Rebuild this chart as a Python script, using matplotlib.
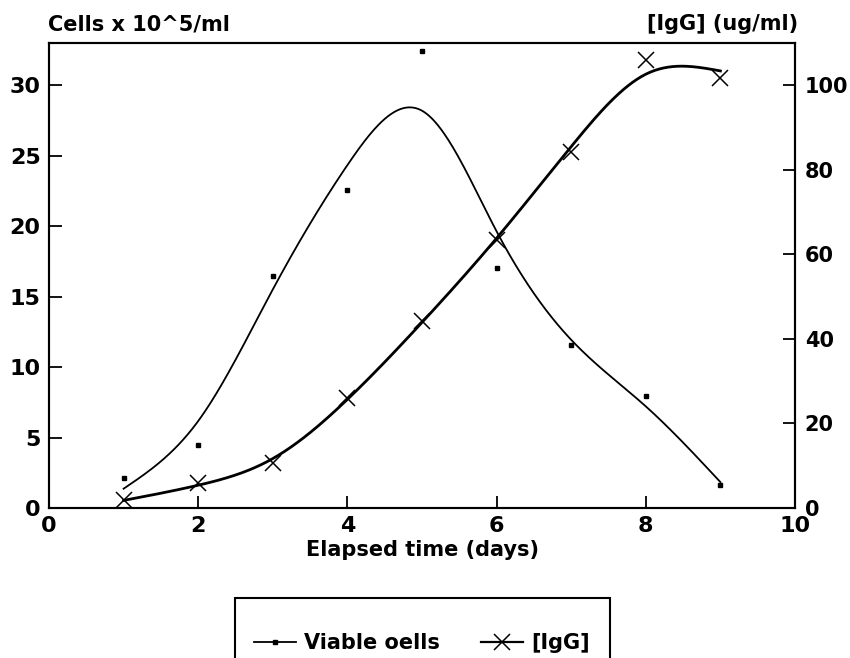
import matplotlib

matplotlib.use("Agg")
import matplotlib.pyplot as plt
import numpy as np
from matplotlib.lines import Line2D
from matplotlib.patches import Rectangle

days = np.array([1, 2, 3, 4, 5, 6, 7, 8, 9], dtype=float)
viable_cells = np.array([2.1, 4.5, 16.45, 22.6, 32.4, 17.0, 11.55, 7.95, 1.65])
igg = np.array([1.9, 5.9, 10.6, 26.0, 44.2, 63.4, 84.2, 105.9, 101.7])

x_ticks = [0, 2, 4, 6, 8, 10]
cell_ticks = [0, 5, 10, 15, 20, 25, 30]
igg_ticks = [0, 20, 40, 60, 80, 100]

plt.rcParams["font.family"] = ["DejaVu Sans"]
plt.rcParams["font.weight"] = "bold"


def smoothing_spline(x, y, lam, n=401):
    """Penalised least-squares fit on a fine grid (discrete cubic smoothing spline)."""
    grid = np.linspace(x[0], x[-1], n)
    h = grid[1] - grid[0]
    idx = np.round((x - x[0]) / h).astype(int)
    w = np.zeros(n)
    b = np.zeros(n)
    w[idx] = 1.0
    b[idx] = y
    d2 = np.diff(np.eye(n), 2, axis=0) / h ** 2
    a = np.diag(w) + lam * h * d2.T @ d2
    return grid, np.linalg.solve(a, b)


fig = plt.figure(figsize=(8.5, 6.58), dpi=100)
ax = fig.add_axes([49 / 850, 1 - 508 / 658, (795 - 49) / 850, (508 - 43) / 658])
ax2 = ax.twinx()

gx, gcells = smoothing_spline(days, viable_cells, 0.1)
ax.plot(gx, gcells, color="black", lw=1.3)
ax.plot(days, viable_cells, ls="none", marker="s", ms=3.0, color="black")

gx, gigg = smoothing_spline(days, igg, 0.07)
ax2.plot(gx, gigg, color="black", lw=2.0)
ax2.plot(days, igg, ls="none", marker="x", ms=12, mew=1.1, color="black")

ax.set_xlim(0, 10)
ax.set_ylim(0, 33)
ax2.set_ylim(0, 110)
ax.set_xticks(x_ticks)
ax.set_yticks(cell_ticks)
ax2.set_yticks(igg_ticks)
ax.tick_params(axis="both", direction="in", length=9, width=1.3, labelsize=16, pad=6)
ax.tick_params(axis="y", right=False)
ax2.tick_params(axis="y", direction="in", length=9, width=1.3, labelsize=15, pad=7)
for a in (ax, ax2):
    for sp in a.spines.values():
        sp.set_linewidth(1.5)

ax.set_xlabel("Elapsed time (days)", fontsize=15, fontweight="bold", labelpad=3)
fig.text(48 / 850, 1 - 24 / 658, "Cells x 10^5/ml", fontsize=15, fontweight="bold",
         ha="left", va="center")
fig.text(798 / 850, 1 - 24 / 658, "[IgG] (ug/ml)", fontsize=15, fontweight="bold",
         ha="right", va="center")

# legend box runs off the bottom edge of the figure
fig.patches.append(Rectangle((235 / 850, -0.05), (610 - 235) / 850, 0.05 + 1 - 598 / 658,
                             transform=fig.transFigure, fill=False, lw=1.5,
                             edgecolor="black"))
handles = [
    Line2D([], [], color="black", lw=1.3, marker="s", ms=3.0),
    Line2D([], [], color="black", lw=1.6, marker="x", ms=12, mew=1.1),
]
fig.legend(handles, ["Viable oells", "[IgG]"], loc="center", ncol=2,
           bbox_to_anchor=(422 / 850, 1 - 643 / 658), frameon=False,
           handlelength=2.0, handletextpad=0.4, columnspacing=2.0,
           prop={"weight": "bold", "size": 15})

fig.savefig("out.png", dpi=100)
